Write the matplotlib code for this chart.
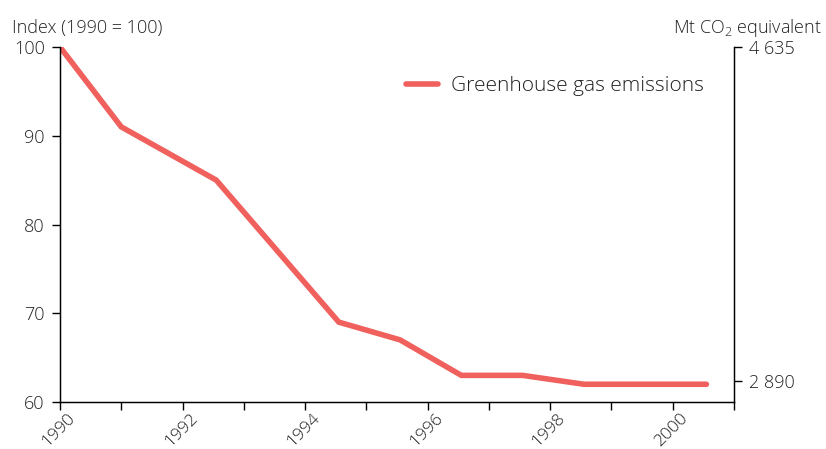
import matplotlib
matplotlib.use("Agg")
import matplotlib.pyplot as plt
import matplotlib.transforms as mtransforms

# Data
years = [1990.0, 1991.0, 1992.55, 1994.55, 1995.55, 1996.55, 1997.55, 1998.55, 2000.55]
index_values = [100, 91, 85, 69, 67, 63, 63, 62, 62]
x_tick_years = [1990, 1991, 1992, 1993, 1994, 1995, 1996, 1997, 1998, 1999, 2000, 2001]
x_label_years = [1990, 1992, 1994, 1996, 1998, 2000]
left_ticks = [60, 70, 80, 90, 100]
right_tick_values = [4635, 2890]
right_tick_labels = ["4 635", "2 890"]
base_mt = 4635

plt.rcParams['font.family'] = ['Open Sans', 'DejaVu Sans']
plt.rcParams['font.weight'] = 300
plt.rcParams['mathtext.default'] = 'regular'
txt = "#222222"
line_color = "#F0605D"

fig = plt.figure(figsize=(8.26, 4.49), dpi=100)
ax = fig.add_axes([60/826, 1 - 402/449, (734-60)/826, (402-47)/449])

ax.plot(years, index_values, color=line_color, lw=4, solid_capstyle='round',
        solid_joinstyle='miter', label="Greenhouse gas emissions")
ax.set_xlim(1990, 2001)
ax.set_ylim(60, 100)
ax.set_yticks(left_ticks)
ax.set_xticks(x_tick_years)
ax.set_xticklabels([str(y) if y in x_label_years else "" for y in x_tick_years])
ax.tick_params(axis='both', colors='black', labelcolor=txt, labelsize=13, length=6, width=1)
ax.tick_params(axis='y', pad=5)
ax.tick_params(axis='x', pad=1, labelsize=12.5)
offset = mtransforms.ScaledTranslation(7/100, 1/100, fig.dpi_scale_trans)
for lab in ax.get_xticklabels():
    lab.set_rotation(45)
    lab.set_ha('right')
    lab.set_va('top')
    lab.set_rotation_mode('anchor')
    lab.set_transform(lab.get_transform() + offset)
ax.spines['top'].set_visible(False)
for s in ['left', 'bottom', 'right']:
    ax.spines[s].set_linewidth(1)

ax2 = ax.twinx()
ax2.set_ylim(60 * base_mt / 100, base_mt)
ax2.set_yticks(right_tick_values)
ax2.set_yticklabels(right_tick_labels)
ax2.tick_params(axis='y', labelcolor=txt, labelsize=13, length=6, width=1, pad=5)
ax2.spines['top'].set_visible(False)

fig.text(12/826, 1 - 28/449, "Index (1990 = 100)", fontsize=13, color=txt, va='center', ha='left')
fig.text(822/826, 1 - 28/449, "Mt CO$_{2}$ equivalent", fontsize=13, color=txt, va='center', ha='right')

leg = ax.legend(loc='upper left', bbox_to_anchor=((398-60)/(734-60), 1 - (68-47)/(402-47)),
                frameon=False, fontsize=15, handlelength=1.5, handletextpad=0.65,
                labelcolor=txt, borderaxespad=0)

fig.savefig("out.png", dpi=100)
